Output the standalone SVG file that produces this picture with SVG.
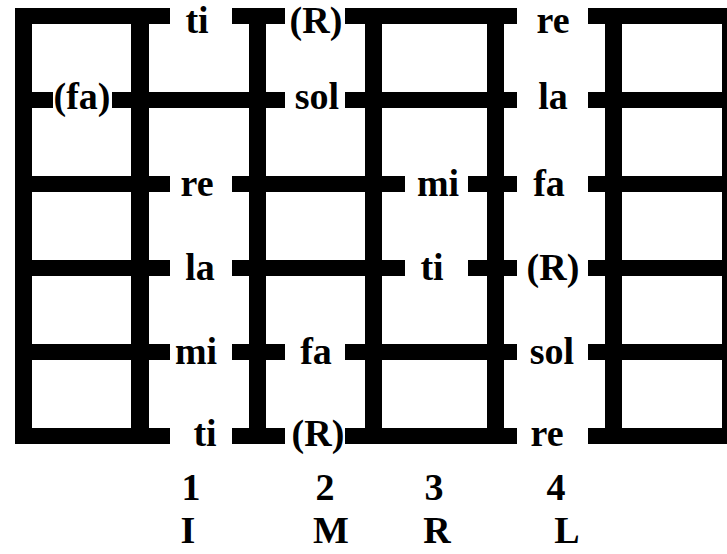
<svg xmlns="http://www.w3.org/2000/svg" width="727" height="554" viewBox="0 0 727 554">
<style>
.b{fill:#000}
.t{font-family:"Liberation Serif","Times New Roman",serif;font-weight:bold;font-size:38px;fill:#000;text-anchor:middle}
</style>
<rect width="727" height="554" fill="#fff"/>
<g id="verticals">
<rect class="b" x="15" y="8" width="17" height="436"/>
<rect class="b" x="131" y="8" width="18" height="436"/>
<rect class="b" x="249" y="8" width="17" height="436"/>
<rect class="b" x="365" y="8" width="17" height="436"/>
<rect class="b" x="487" y="8" width="17" height="436"/>
<rect class="b" x="605" y="8" width="17" height="436"/>
<rect class="b" x="722" y="8" width="17" height="436"/>
</g>
<g id="row1">
<rect class="b" x="15" y="8" width="155" height="16"/>
<rect class="b" x="232" y="8" width="53" height="16"/>
<rect class="b" x="345" y="8" width="172" height="16"/>
<rect class="b" x="588" y="8" width="139" height="16"/>
<text class="t" x="197" y="33">ti</text>
<text class="t" x="316" y="33">(R)</text>
<text class="t" x="553" y="33">re</text>
</g>
<g id="row2">
<rect class="b" x="15" y="92" width="38" height="16"/>
<rect class="b" x="112" y="92" width="173" height="16"/>
<rect class="b" x="345" y="92" width="172" height="16"/>
<rect class="b" x="588" y="92" width="139" height="16"/>
<text class="t" x="82" y="109">(fa)</text>
<text class="t" x="317" y="109">sol</text>
<text class="t" x="553" y="109">la</text>
</g>
<g id="row3">
<rect class="b" x="15" y="176" width="155" height="16"/>
<rect class="b" x="232" y="176" width="173" height="16"/>
<rect class="b" x="468" y="176" width="49" height="16"/>
<rect class="b" x="588" y="176" width="139" height="16"/>
<text class="t" x="197" y="196">re</text>
<text class="t" x="438" y="196">mi</text>
<text class="t" x="549" y="196">fa</text>
</g>
<g id="row4">
<rect class="b" x="15" y="260" width="155" height="16"/>
<rect class="b" x="232" y="260" width="173" height="16"/>
<rect class="b" x="468" y="260" width="49" height="16"/>
<rect class="b" x="588" y="260" width="139" height="16"/>
<text class="t" x="200" y="280">la</text>
<text class="t" x="432" y="280">ti</text>
<text class="t" x="553" y="280">(R)</text>
</g>
<g id="row5">
<rect class="b" x="15" y="344" width="155" height="16"/>
<rect class="b" x="232" y="344" width="53" height="16"/>
<rect class="b" x="345" y="344" width="172" height="16"/>
<rect class="b" x="588" y="344" width="139" height="16"/>
<text class="t" x="196" y="364">mi</text>
<text class="t" x="316" y="364">fa</text>
<text class="t" x="552" y="364">sol</text>
</g>
<g id="row6">
<rect class="b" x="15" y="428" width="155" height="16"/>
<rect class="b" x="232" y="428" width="53" height="16"/>
<rect class="b" x="345" y="428" width="172" height="16"/>
<rect class="b" x="588" y="428" width="139" height="16"/>
<text class="t" x="205" y="446">ti</text>
<text class="t" x="318" y="446">(R)</text>
<text class="t" x="547" y="446">re</text>
</g>
<g id="numbers">
<text class="t" x="191" y="500">1</text>
<text class="t" x="325" y="500">2</text>
<text class="t" x="434" y="500">3</text>
<text class="t" x="556" y="500">4</text>
</g>
<g id="fingers">
<text class="t" x="188" y="543">I</text>
<text class="t" x="331" y="543">M</text>
<text class="t" x="437" y="543">R</text>
<text class="t" x="567" y="543">L</text>
</g>
</svg>
